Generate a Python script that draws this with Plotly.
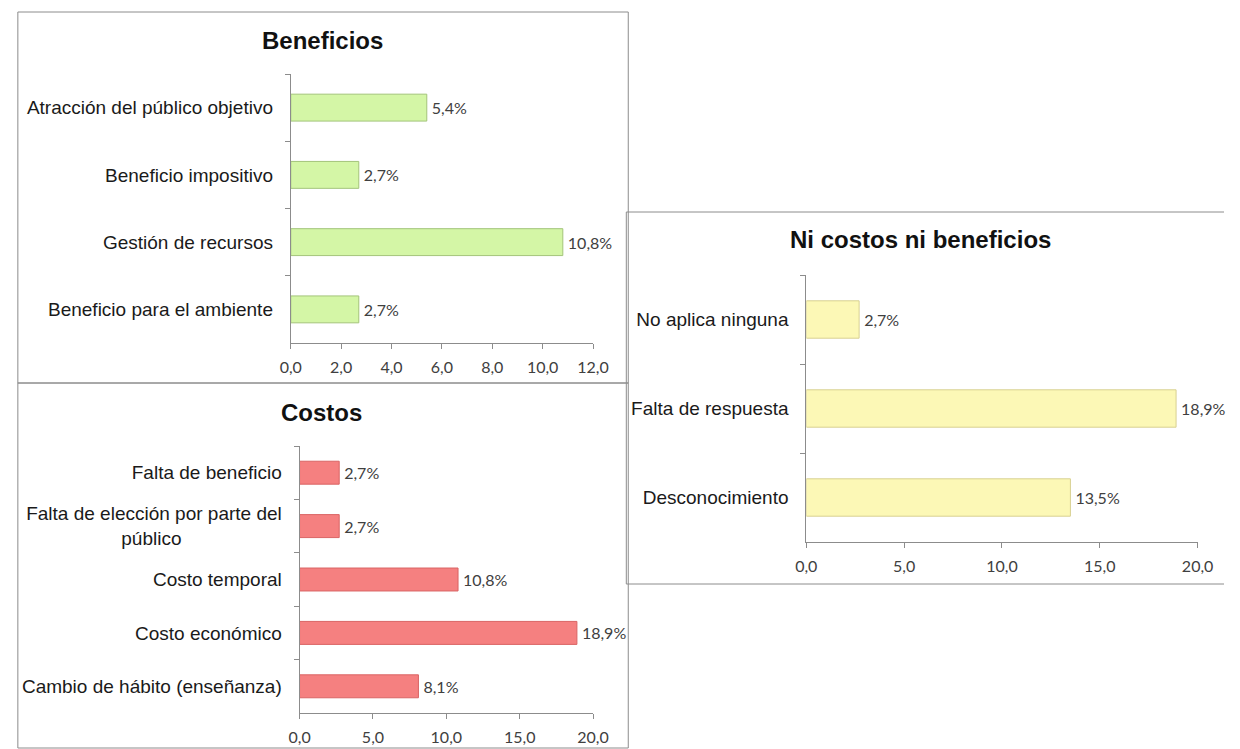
import plotly.graph_objects as go

# ---- data ----
ben_cats = ["Atracción del público objetivo", "Beneficio impositivo",
            "Gestión de recursos", "Beneficio para el ambiente"]
ben_vals = [5.4, 2.7, 10.8, 2.7]

cos_cats = ["Falta de beneficio",
            "Falta de elección por parte del<br>público" + "\u00a0" * 19,
            "Costo temporal", "Costo económico", "Cambio de hábito (enseñanza)"]
cos_vals = [2.7, 2.7, 10.8, 18.9, 8.1]

ni_cats = ["No aplica ninguna", "Falta de respuesta", "Desconocimiento"]
ni_vals = [2.7, 18.9, 13.5]

ben_ticks = [0, 2, 4, 6, 8, 10, 12]
cos_ticks = [0, 5, 10, 15, 20]
ni_ticks = [0, 5, 10, 15, 20]

titles = ["Beneficios", "Costos", "Ni costos ni beneficios"]

W, H = 1240, 749
def px(x): return x / W
def py(y): return 1 - y / H

fig = go.Figure()

num_font = dict(family="Lato, Open Sans, sans-serif", size=16, color="#404040")
lab_font = dict(family="Liberation Sans, Arial, sans-serif", size=19, color="#1a1a1a")

specs = [
    (ben_cats, ben_vals, "#d4f6a6", "#a3c47a", 0.40, "x", "y", ben_ticks),
    (cos_cats, cos_vals, "#f58080", "#d96464", 0.43, "x2", "y2", cos_ticks),
    (ni_cats, ni_vals, "#fcf8b6", "#d8d092", 0.42, "x3", "y3", ni_ticks),
]
for cats, vals, fill, edge, w, xa, ya, ticks in specs:
    fig.add_trace(go.Bar(
        y=cats, x=vals, orientation="h", xaxis=xa, yaxis=ya,
        marker=dict(color=fill, line=dict(color=edge, width=1)),
        width=w, texttemplate="\u2009%{x:.1f}%", textposition="outside",
        textfont=num_font, cliponaxis=False, showlegend=False, hoverinfo="skip"))

axis_common = dict(showline=True, linecolor="#8c8c8c", linewidth=1,
                   showgrid=False, zeroline=False, ticks="outside",
                   tickcolor="#8c8c8c", ticklen=5, tickfont=num_font,
                   tickformat=".1f", ticklabelstandoff=5, fixedrange=True)
ycommon = dict(showline=True, linecolor="#8c8c8c", linewidth=1,
               showgrid=False, zeroline=False, ticks="outside",
               tickcolor="#8c8c8c", ticklen=5, tickson="boundaries",
               tickfont=lab_font, autorange="reversed", ticklabelstandoff=13,
               fixedrange=True)

fig.update_layout(
    width=W, height=H, margin=dict(l=0, r=0, t=0, b=0),
    paper_bgcolor="white", plot_bgcolor="white", separators=",.",
    xaxis=dict(domain=[px(286), px(595)], range=[0, 12], tickvals=ben_ticks,
               anchor="y", **axis_common),
    yaxis=dict(domain=[py(343), py(74)], anchor="x", **ycommon),
    xaxis2=dict(domain=[px(295), px(595)], range=[0, 20], tickvals=cos_ticks,
                anchor="y2", **axis_common),
    yaxis2=dict(domain=[py(713), py(446)], anchor="x2", **ycommon),
    xaxis3=dict(domain=[px(813), px(1213)], range=[0, 20], tickvals=ni_ticks,
                anchor="y3", **axis_common),
    yaxis3=dict(domain=[py(542), py(275)], anchor="x3", **ycommon),
)

# panel borders (kept inside the page)
border = dict(color="#8c8c8c", width=1)
for x0, y0, x1, y1 in [(7, 12, 631, 383), (7, 383, 631, 748)]:
    fig.add_shape(type="rect", xref="paper", yref="paper",
                  x0=px(x0), x1=px(x1), y0=py(y0), y1=py(y1),
                  line=border, fillcolor="rgba(0,0,0,0)", layer="below")
for x0, y0, x1, y1 in [(629, 212, 1240, 212), (629, 584, 1240, 584), (629, 212, 629, 584)]:
    fig.add_shape(type="line", xref="paper", yref="paper",
                  x0=px(x0), x1=px(x1), y0=py(y0), y1=py(y1),
                  line=border, layer="below")

for t, (x, y) in zip(titles, [(318, 41), (317, 412), (930, 239)]):
    fig.add_annotation(text="<b>%s</b>" % t, xref="paper", yref="paper",
                       x=px(x), y=py(y), showarrow=False,
                       font=dict(family="Liberation Sans, Arial, sans-serif",
                                 size=24, color="#111111"),
                       xanchor="center", yanchor="middle")

fig.write_html("out.html", config={"displayModeBar": False},
               post_script="document.body.style.margin='0';"
                           "document.body.style.overflow='hidden';")
